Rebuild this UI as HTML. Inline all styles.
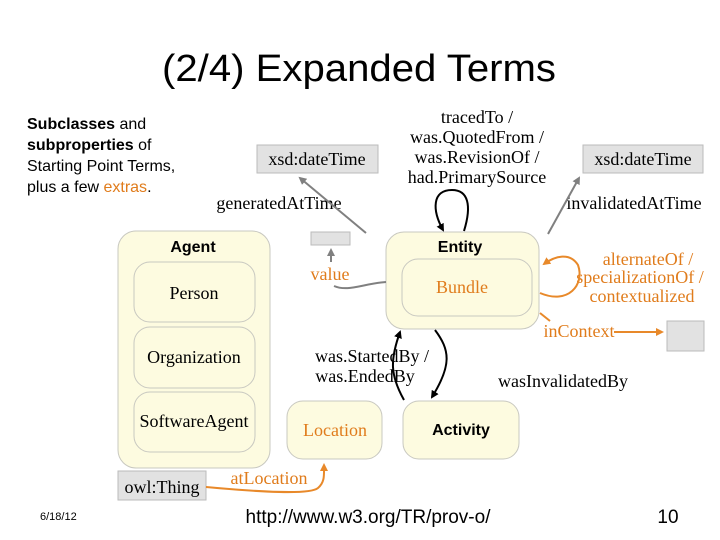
<!DOCTYPE html>
<html><head><meta charset="utf-8"><style>
html,body{margin:0;padding:0;background:#fff;}
svg{display:block;}
</style></head><body>
<svg width="720" height="540" viewBox="0 0 720 540" xmlns="http://www.w3.org/2000/svg">
<defs>
<marker id="ag" markerWidth="8" markerHeight="8" refX="6" refY="4" orient="auto" markerUnits="userSpaceOnUse"><path d="M0,0 L8,4 L0,8 Z" fill="#808080"/></marker>
<marker id="ab" markerWidth="8" markerHeight="8" refX="6" refY="4" orient="auto" markerUnits="userSpaceOnUse"><path d="M0,0 L8,4 L0,8 Z" fill="#000"/></marker>
<marker id="ao" markerWidth="8" markerHeight="8" refX="6" refY="4" orient="auto" markerUnits="userSpaceOnUse"><path d="M0,0 L8,4 L0,8 Z" fill="#e8892a"/></marker>
</defs>
<text x="359" y="81" font-family="Liberation Sans, sans-serif" font-size="38" text-anchor="middle" fill="#000" textLength="394" lengthAdjust="spacingAndGlyphs">(2/4) Expanded Terms</text>
<g font-family="Liberation Sans, sans-serif" font-size="16" fill="#000">
<text x="27" y="129"><tspan font-weight="bold">Subclasses</tspan> and</text>
<text x="27" y="150"><tspan font-weight="bold">subproperties</tspan> of</text>
<text x="27" y="171">Starting Point Terms,</text>
<text x="27" y="192">plus a few <tspan fill="#e07c1c">extras</tspan>.</text>
</g>
<g stroke="#c8c8c0" stroke-width="1" fill="#fdfbe0">
<rect x="118" y="231" width="152" height="237" rx="18"/>
<rect x="134" y="262" width="121" height="60" rx="16"/>
<rect x="134" y="327" width="121" height="61" rx="16"/>
<rect x="134" y="392" width="121" height="60" rx="16"/>
<rect x="386" y="232" width="153" height="97" rx="18"/>
<rect x="402" y="259" width="130" height="57" rx="16"/>
<rect x="287" y="401" width="95" height="58" rx="16"/>
<rect x="403" y="401" width="116" height="58" rx="16"/>
</g>
<g fill="#e2e2e2" stroke="#bbb">
<rect x="257" y="145" width="121" height="28"/>
<rect x="583" y="145" width="120" height="28"/>
<rect x="311" y="232" width="39" height="13"/>
<rect x="667" y="321" width="37" height="30"/>
<rect x="118" y="471" width="88" height="29"/>
</g>
<g font-family="Liberation Serif, serif" font-size="18" fill="#000" text-anchor="middle">
<text x="317" y="165">xsd:dateTime</text>
<text x="643" y="165">xsd:dateTime</text>
<text x="162" y="493">owl:Thing</text>
<text x="194" y="299">Person</text>
<text x="194" y="363">Organization</text>
<text x="194" y="427">SoftwareAgent</text>
<text x="477" y="123">tracedTo /</text>
<text x="477" y="143">was.QuotedFrom /</text>
<text x="477" y="163">was.RevisionOf /</text>
<text x="477" y="183">had.PrimarySource</text>
<text x="279" y="209">generatedAtTime</text>
<text x="634" y="209">invalidatedAtTime</text>
<text x="372" y="362">was.StartedBy /</text>
<text x="365" y="382">was.EndedBy</text>
<text x="563" y="387">wasInvalidatedBy</text>
</g>
<g font-family="Liberation Serif, serif" font-size="18" fill="#e07c1c" text-anchor="middle">
<text x="330" y="280">value</text>
<text x="462" y="293">Bundle</text>
<text x="335" y="436">Location</text>
<text x="269" y="484">atLocation</text>
<text x="579" y="337">inContext</text>
<text x="648" y="265">alternateOf /</text>
<text x="640" y="283">specializationOf /</text>
<text x="642" y="302">contextualized</text>
</g>
<g font-family="Liberation Sans, sans-serif" font-size="16" font-weight="bold" fill="#000" text-anchor="middle">
<text x="193" y="252">Agent</text>
<text x="460" y="252">Entity</text>
<text x="461" y="435">Activity</text>
</g>
<g fill="none" stroke-width="2">
<path d="M366,233 L300,178" stroke="#808080" marker-end="url(#ag)"/>
<path d="M548,234 L579,178" stroke="#808080" marker-end="url(#ag)"/>
<path d="M331,262 L331,250" stroke="#808080" marker-end="url(#ag)"/>
<path d="M386,282 C362,284 348,292 334,286" stroke="#808080"/>
<path d="M464,231 C472,205 468,190 452,190 C432,190 432,210 443,230" stroke="#000" marker-end="url(#ab)"/>
<path d="M404,400 C390,375 390,360 400,332" stroke="#000" marker-end="url(#ab)"/>
<path d="M435,330 C450,350 452,365 432,397" stroke="#000" marker-end="url(#ab)"/>
<path d="M540,293 C568,305 585,285 578,265 C570,252 555,256 544,264" stroke="#e8892a" marker-end="url(#ao)"/>
<path d="M540,313 L550,321" stroke="#e8892a"/>
<path d="M614,332 L662,332" stroke="#e8892a" marker-end="url(#ao)"/>
<path d="M206,487 C260,492 310,495 318,488 C325,482 324,475 324,465" stroke="#e8892a" marker-end="url(#ao)"/>
</g>
<g font-family="Liberation Sans, sans-serif" fill="#000">
<text x="40" y="520" font-size="11">6/18/12</text>
<text x="368" y="523" font-size="19" text-anchor="middle">http://www.w3.org/TR/prov-o/</text>
<text x="668" y="523" font-size="19" text-anchor="middle">10</text>
</g>
</svg>
</body></html>
